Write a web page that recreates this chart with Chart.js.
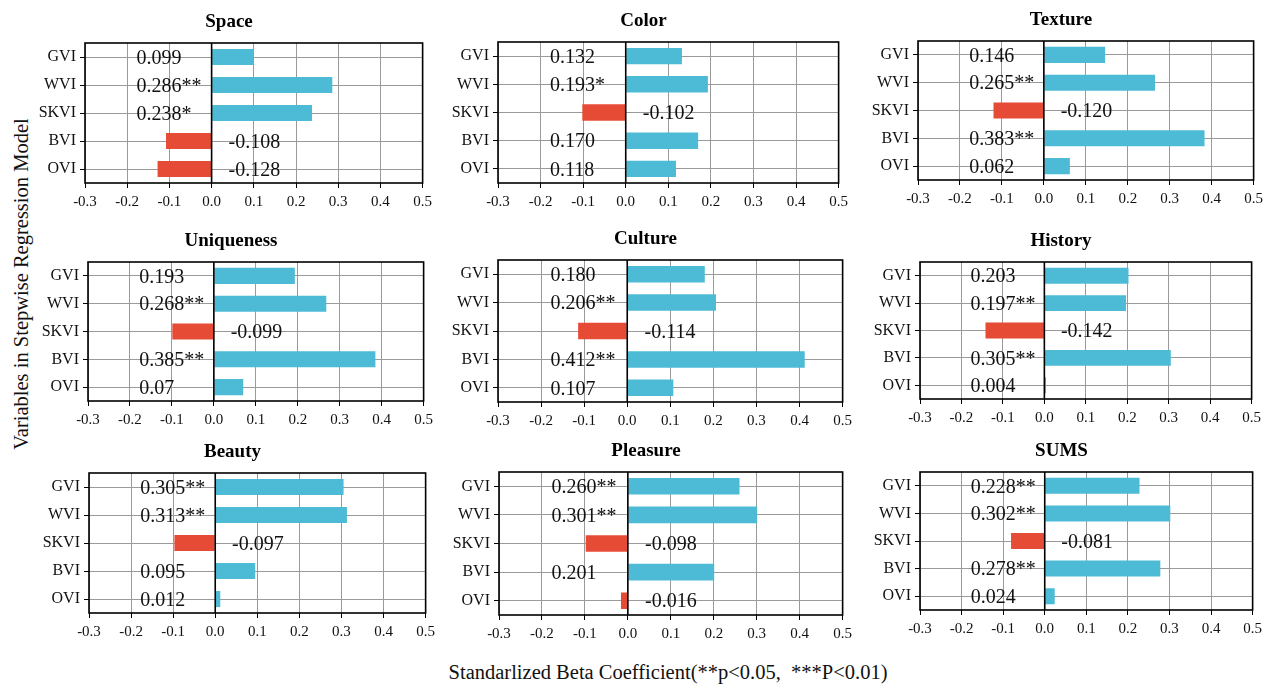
<!DOCTYPE html>
<html>
<head>
<meta charset="utf-8">
<script src="https://cdn.jsdelivr.net/npm/chart.js@4.4.0/dist/chart.umd.min.js"></script>
<style>
  body { margin:0; background:#fff; width:1270px; height:687px; position:relative; overflow:hidden; font-family:"Liberation Serif", serif; }
  .panel { position:absolute; }
  #ytitle { position:absolute; left:21px; top:284px; transform:translate(-50%,-50%) rotate(-90deg); white-space:nowrap; font-size:20.5px; color:#111; }
  #xtitle { position:absolute; left:668px; top:672px; transform:translate(-50%,-50%); white-space:pre; font-size:20.5px; color:#111; }
</style>
</head>
<body>
<div id="ytitle">Variables in Stepwise Regression Model</div>
<div id="xtitle">Standarlized Beta Coefficient(**p&lt;0.05,  ***P&lt;0.01)</div>
<script>
// variables (same order in every panel)
var categories = ['GVI', 'WVI', 'SKVI', 'BVI', 'OVI'];

var spaceValues = [0.099, 0.286, 0.238, -0.108, -0.128];
var spaceLabels = ['0.099', '0.286**', '0.238*', '-0.108', '-0.128'];

var colorValues = [0.132, 0.193, -0.102, 0.170, 0.118];
var colorLabels = ['0.132', '0.193*', '-0.102', '0.170', '0.118'];

var textureValues = [0.146, 0.265, -0.120, 0.383, 0.062];
var textureLabels = ['0.146', '0.265**', '-0.120', '0.383**', '0.062'];

var uniquenessValues = [0.193, 0.268, -0.099, 0.385, 0.07];
var uniquenessLabels = ['0.193', '0.268**', '-0.099', '0.385**', '0.07'];

var cultureValues = [0.180, 0.206, -0.114, 0.412, 0.107];
var cultureLabels = ['0.180', '0.206**', '-0.114', '0.412**', '0.107'];

var historyValues = [0.203, 0.197, -0.142, 0.305, 0.004];
var historyLabels = ['0.203', '0.197**', '-0.142', '0.305**', '0.004'];

var beautyValues = [0.305, 0.313, -0.097, 0.095, 0.012];
var beautyLabels = ['0.305**', '0.313**', '-0.097', '0.095', '0.012'];

var pleasureValues = [0.260, 0.301, -0.098, 0.201, -0.016];
var pleasureLabels = ['0.260**', '0.301**', '-0.098', '0.201', '-0.016'];

var sumsValues = [0.228, 0.302, -0.081, 0.278, 0.024];
var sumsLabels = ['0.228**', '0.302**', '-0.081', '0.278**', '0.024'];

var xMin = -0.3, xMax = 0.5, xStep = 0.1;

var panels = [
  { title: 'Space',      values: spaceValues,      labels: spaceLabels },
  { title: 'Color',      values: colorValues,      labels: colorLabels },
  { title: 'Texture',    values: textureValues,    labels: textureLabels },
  { title: 'Uniqueness', values: uniquenessValues, labels: uniquenessLabels },
  { title: 'Culture',    values: cultureValues,    labels: cultureLabels },
  { title: 'History',    values: historyValues,    labels: historyLabels },
  { title: 'Beauty',     values: beautyValues,     labels: beautyLabels },
  { title: 'Pleasure',   values: pleasureValues,   labels: pleasureLabels },
  { title: 'SUMS',       values: sumsValues,       labels: sumsLabels }
];

// plot area of each panel on the page: left, top, right, bottom
var plotBoxes = [
  [85, 43, 423, 183], [498, 42, 839, 183], [918, 41, 1254, 180],
  [88, 262, 424, 401], [498, 260, 843, 402], [920, 262, 1252, 399],
  [89, 473, 426, 613], [499, 472, 843, 615], [920, 472, 1253, 610]
];

var CYAN = '#4DBBD5', RED = '#E64B35';
var FONT = '"Liberation Serif", "Times New Roman", serif';
var Y_W = 50, X_H = 30, TITLE_H = 32, PAD_R = 14;

function isZero(v) { return Math.abs(v) < 1e-9; }

// black frame + zero line on top of the bars
var framePlugin = {
  id: 'frame',
  afterDatasetsDraw: function(chart) {
    var a = chart.chartArea, ctx = chart.ctx;
    var x0 = chart.scales.x.getPixelForValue(0);
    ctx.save();
    ctx.strokeStyle = '#000';
    ctx.lineWidth = 1.6;
    ctx.beginPath();
    ctx.moveTo(x0, a.top);
    ctx.lineTo(x0, a.bottom);
    ctx.stroke();
    ctx.strokeRect(a.left, a.top, a.right - a.left, a.bottom - a.top);
    ctx.restore();
  }
};

// value text: positives left of zero, negatives right of zero
var valuePlugin = {
  id: 'values',
  afterDatasetsDraw: function(chart) {
    var ctx = chart.ctx;
    var vals = chart.data.datasets[0].data;
    var txt = chart.options.plugins.values.labels;
    ctx.save();
    ctx.font = '20px ' + FONT;
    ctx.fillStyle = '#111';
    ctx.textAlign = 'left';
    ctx.textBaseline = 'middle';
    for (var i = 0; i < vals.length; i++) {
      var x = chart.scales.x.getPixelForValue(vals[i] < 0 ? 0.04 : -0.178);
      var y = chart.scales.y.getPixelForValue(i) + 1.5;
      ctx.fillText(txt[i], x, y);
    }
    ctx.restore();
  }
};

panels.forEach(function(p, k) {
  var b = plotBoxes[k];
  var div = document.createElement('div');
  div.className = 'panel';
  var w = (b[2] - b[0]) + Y_W + PAD_R;
  var h = (b[3] - b[1]) + TITLE_H + X_H;
  div.style.left = (b[0] - Y_W) + 'px';
  div.style.top = (b[1] - TITLE_H) + 'px';
  div.style.width = w + 'px';
  div.style.height = h + 'px';
  var canvas = document.createElement('canvas');
  canvas.width = w;
  canvas.height = h;
  div.appendChild(canvas);
  document.body.appendChild(div);

  new Chart(canvas, {
    type: 'bar',
    data: {
      labels: categories,
      datasets: [{
        data: p.values,
        backgroundColor: p.values.map(function(v) { return v < 0 ? RED : CYAN; }),
        barPercentage: 0.58,
        categoryPercentage: 1
      }]
    },
    options: {
      indexAxis: 'y',
      responsive: false,
      animation: false,
      layout: { padding: { left: 0, right: PAD_R, top: 0, bottom: 0 } },
      plugins: {
        legend: { display: false },
        tooltip: { enabled: false },
        title: {
          display: true,
          text: p.title,
          color: '#000',
          font: { family: FONT, size: 19, weight: 'bold', lineHeight: 1.2 },
          padding: { top: 0, bottom: 9.2 }
        },
        values: { labels: p.labels }
      },
      scales: {
        x: {
          min: xMin,
          max: xMax,
          ticks: {
            stepSize: xStep,
            autoSkip: false,
            maxRotation: 0,
            color: '#111',
            padding: 5,
            font: { family: FONT, size: 15 },
            callback: function(v) { return isZero(v) ? '0.0' : Number(v).toFixed(1); }
          },
          grid: {
            color: '#9a9a9a',
            lineWidth: 1,
            tickColor: '#000',
            tickLength: 5
          },
          border: { display: false },
          afterFit: function(s) { s.height = X_H; }
        },
        y: {
          ticks: {
            color: '#111',
            padding: 4,
            font: { family: FONT, size: 16 }
          },
          grid: {
            offset: false,
            color: '#9a9a9a',
            lineWidth: 1,
            tickColor: '#000',
            tickLength: 5
          },
          border: { display: false },
          afterFit: function(s) { s.width = Y_W; }
        }
      }
    },
    plugins: [framePlugin, valuePlugin]
  });
});
</script>
</body>
</html>
